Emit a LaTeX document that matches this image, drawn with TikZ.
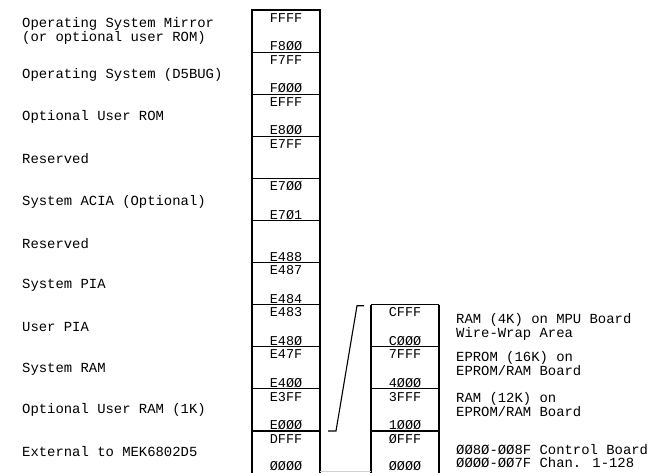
\documentclass[tikz,border=0pt]{standalone}
\usepackage{fontspec}
\newfontfamily\tw{Liberation Mono}
\usetikzlibrary{calc}
\begin{document}
\begin{tikzpicture}[x=1pt,y=-1pt,
  desc/.style={font=\tw\fontsize{13.9}{12}\selectfont, inner sep=0pt, anchor=west, align=left},
  addr/.style={font=\tw\fontsize{13.5}{13.5}\selectfont, inner sep=0pt},
  topaddr/.style={addr, anchor=north},
  botaddr/.style={addr, anchor=base},
  sect/.style={rectangle, draw=none, inner sep=0pt, outer sep=0pt, minimum width=68pt, minimum height=42.1pt, anchor=north west},
  frame/.style={line width=1.6pt},
  divider/.style={line width=1.1pt},
  link/.style={line width=1.1pt},
  faint/.style={gray!35, line width=0.8pt},
]
\useasboundingbox (0,0) rectangle (658,473);

% left memory column
\foreach \i in {0,...,10} \node[sect] (a\i) at (252,{10+42.1*\i}) {};
% right memory column
\foreach \j in {0,...,3} \node[sect] (b\j) at (371,{10+42.1*(\j+7)}) {};

\foreach \i in {1,...,10} \draw[divider] (a\i.north west) -- (a\i.north east);
\draw[frame] (a10.south west) -- (a0.north west) -- (a0.north east) -- (a10.south east);
\foreach \j in {1,...,3} \draw[divider] (b\j.north west) -- (b\j.north east);
\draw[divider] (b0.north west) -- (b0.north east);
\draw[frame] (b3.south west) -- (b0.north west);
\draw[frame] (b0.north east) -- (b3.south east);
\draw[faint] ($(a10.south east)+(0,-1.5)$) -- ($(b3.south west)+(0,-1.5)$);

% left top addresses
\node[topaddr] (ta0) at ($(a0.north)+(0,3)$) {FFFF};
\node[topaddr] (ta1) at ($(a1.north)+(0,3)$) {F7FF};
\node[topaddr] (ta2) at ($(a2.north)+(0,3)$) {EFFF};
\node[topaddr] (ta3) at ($(a3.north)+(0,3)$) {E7FF};
\node[topaddr] (ta4) at ($(a4.north)+(0,3)$) {E7ØØ};
\node[topaddr] (ta6) at ($(a6.north)+(0,3)$) {E487};
\node[topaddr] (ta7) at ($(a7.north)+(0,3)$) {E483};
\node[topaddr] (ta8) at ($(a8.north)+(0,3)$) {E47F};
\node[topaddr] (ta9) at ($(a9.north)+(0,3)$) {E3FF};
\node[topaddr] (ta10) at ($(a10.north)+(0,3)$) {DFFF};
% left bottom addresses
\node[botaddr] (ba0) at ($(a0.south)+(0,-1.5)$) {F8ØØ};
\node[botaddr] (ba1) at ($(a1.south)+(0,-1.5)$) {FØØØ};
\node[botaddr] (ba2) at ($(a2.south)+(0,-1.5)$) {E8ØØ};
\node[botaddr] (ba4) at ($(a4.south)+(0,-1.5)$) {E7Ø1};
\node[botaddr] (ba5) at ($(a5.south)+(0,-1.5)$) {E488};
\node[botaddr] (ba6) at ($(a6.south)+(0,-1.5)$) {E484};
\node[botaddr] (ba7) at ($(a7.south)+(0,-1.5)$) {E48Ø};
\node[botaddr] (ba8) at ($(a8.south)+(0,-1.5)$) {E4ØØ};
\node[botaddr] (ba9) at ($(a9.south)+(0,-1.5)$) {EØØØ};
\node[botaddr] (ba10) at ($(a10.south)+(0,-3)$) {ØØØØ};

% right addresses
\node[topaddr] (tb0) at ($(b0.north)+(0,3)$) {CFFF};
\node[topaddr] (tb1) at ($(b1.north)+(0,3)$) {7FFF};
\node[topaddr] (tb2) at ($(b2.north)+(0,3)$) {3FFF};
\node[topaddr] (tb3) at ($(b3.north)+(0,3)$) {ØFFF};
\node[botaddr] (bb0) at ($(b0.south)+(0,-1.5)$) {CØØØ};
\node[botaddr] (bb1) at ($(b1.south)+(0,-1.5)$) {4ØØØ};
\node[botaddr] (bb2) at ($(b2.south)+(0,-1.5)$) {1ØØØ};
\node[botaddr] (bb3) at ($(b3.south)+(0,-3)$) {ØØØØ};

% left descriptions
\node[desc] (d0) at (22,31) {Operating System Mirror\\(or optional user ROM)};
\node[desc] (d1) at (22,75) {Operating System (D5BUG)};
\node[desc] (d2) at (22,117) {Optional User ROM};
\node[desc] (d3) at (22,159) {Reserved};
\node[desc] (d4) at (22,202) {System ACIA (Optional)};
\node[desc] (d5) at (22,244) {Reserved};
\node[desc] (d6) at (22,285) {System PIA};
\node[desc] (d7) at (22,327) {User PIA};
\node[desc] (d8) at (22,369) {System RAM};
\node[desc] (d9) at (22,410) {Optional User RAM (1K)};
\node[desc] (d10) at (22,452) {External to MEK6802D5};

% right descriptions
\node[desc] (e0) at (456,327) {RAM (4K) on MPU Board\\Wire-Wrap Area};
\node[desc] (e1) at (456,364) {EPROM (16K) on\\EPROM/RAM Board};
\node[desc] (e2) at (456,405) {RAM (12K) on\\EPROM/RAM Board};
\node[desc, font=\tw\fontsize{13.9}{13.6}\selectfont] (e3) at (456,456) {ØØ8Ø-ØØ8F Control Board\\ØØØØ-ØØ7F Chan. 1-128};

% expansion bracket
\coordinate (k0) at ($(a10.north east)+(8,0)$);
\coordinate (k1) at ($(a10.north east)+(16,0)$);
\coordinate (k2) at ($(b0.north west)+(-14,1)$);
\coordinate (k3) at ($(b0.north west)+(-7,1)$);
\draw[link] (k0) -- (k1) -- (k2) -- (k3);
\end{tikzpicture}
\end{document}
